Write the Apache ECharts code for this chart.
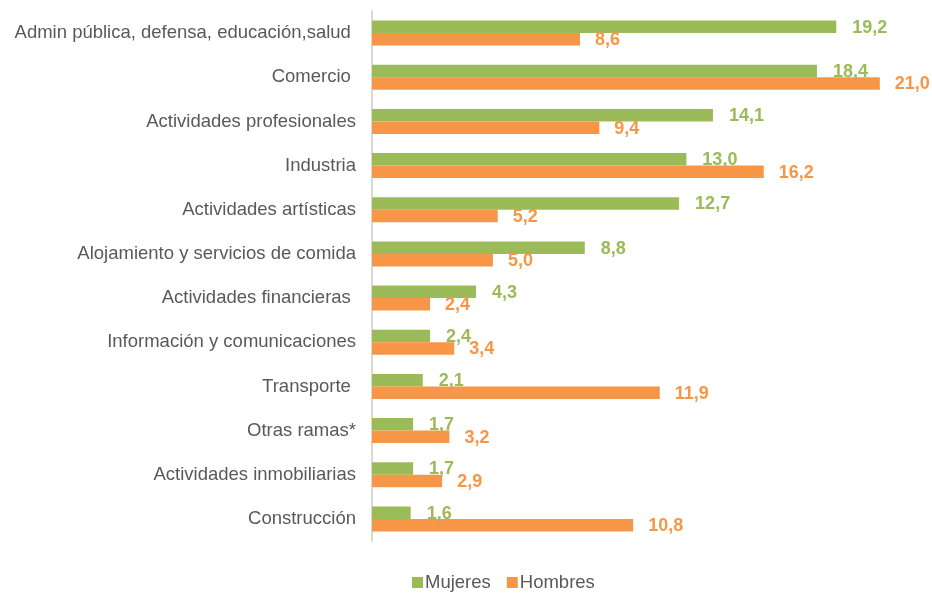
<!DOCTYPE html>
<html>
<head>
<meta charset="utf-8">
<script src="https://cdn.jsdelivr.net/npm/echarts@6/dist/echarts.min.js"></script>
<style>
    html, body { margin: 0; padding: 0; background: #fff; }
    #chart { width: 932px; height: 593px; }
</style>
</head>
<body>
<div id="chart"></div>
<script>
    // categorías (de arriba a abajo)
    var categories = [
        'Admin pública, defensa, educación,salud ',
        'Comercio ',
        'Actividades profesionales',
        'Industria',
        'Actividades artísticas',
        'Alojamiento y servicios de comida',
        'Actividades financieras ',
        'Información y comunicaciones',
        'Transporte ',
        'Otras ramas*',
        'Actividades inmobiliarias',
        'Construcción'
    ];
    var mujeres = [19.2, 18.4, 14.1, 13.0, 12.7, 8.8, 4.3, 2.4, 2.1, 1.7, 1.7, 1.6];
    var hombres = [8.6, 21.0, 9.4, 16.2, 5.2, 5.0, 2.4, 3.4, 11.9, 3.2, 2.9, 10.8];

    var fmt = function (p) {
        return p.value.toFixed(1).replace('.', ',');
    };

    var chart = echarts.init(document.getElementById('chart'));
    chart.setOption({
        animation: false,
        textStyle: { fontFamily: 'Liberation Sans, Arial, sans-serif' },
        grid: { left: 372, right: 28, top: 11, bottom: 52 },
        legend: {
            left: 407,
            bottom: -4,
            itemWidth: 11,
            itemHeight: 11,
            itemGap: 16,
            icon: 'rect',
            textStyle: { fontSize: 18.5, color: '#595959', padding: [0, 0, 0, -3] },
            data: ['Mujeres', 'Hombres']
        },
        xAxis: {
            type: 'value',
            min: 0,
            max: 22,
            show: false
        },
        yAxis: {
            type: 'category',
            inverse: true,
            data: categories,
            axisLine: { show: true, lineStyle: { color: '#d9d9d9', width: 2 } },
            axisTick: { show: false },
            axisLabel: { fontSize: 18.5, color: '#595959', margin: 16 }
        },
        series: [{
            name: 'Mujeres',
            type: 'bar',
            barWidth: 12.5,
            barGap: 0,
            itemStyle: { color: '#9bbb59' },
            label: {
                show: true,
                position: 'right',
                distance: 16,
                offset: [0, 1],
                fontSize: 18,
                fontWeight: 'bold',
                color: '#9bbb59',
                formatter: fmt
            },
            data: mujeres
        }, {
            name: 'Hombres',
            type: 'bar',
            barWidth: 12.5,
            barGap: 0,
            itemStyle: { color: '#f79646' },
            label: {
                show: true,
                position: 'right',
                distance: 15,
                offset: [0, 1],
                fontSize: 18,
                fontWeight: 'bold',
                color: '#f79646',
                formatter: fmt
            },
            data: hombres
        }]
    });
</script>
</body>
</html>
